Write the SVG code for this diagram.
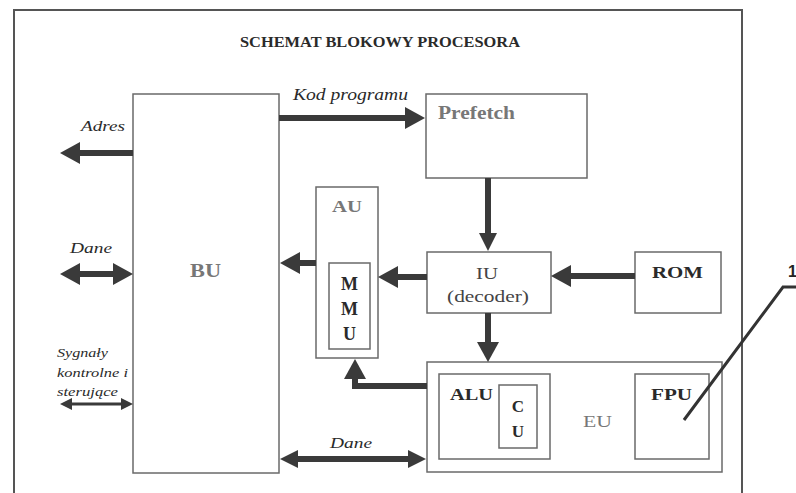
<svg xmlns="http://www.w3.org/2000/svg" width="796" height="493" viewBox="0 0 796 493">
<style>
.box{fill:#fff;stroke:#6a6a6a;stroke-width:1.5}
.t{font-family:"Liberation Serif","Times New Roman",serif}
.b{font-weight:bold}
.i{font-style:italic}
.dk{fill:#2a2a2a}
.gy{fill:#777}
.sh{stroke:#3a3a3a;stroke-width:6;fill:none}
.thin{stroke:#3a3a3a;stroke-width:3;fill:none}
</style>
<defs>
<marker id="ah" viewBox="0 0 20 22" refX="0" refY="11" markerWidth="20" markerHeight="22" markerUnits="userSpaceOnUse" orient="auto-start-reverse">
<path d="M0,0 L20,11 L0,22 z" fill="#3a3a3a"/>
</marker>
<marker id="am" viewBox="0 0 18 18" refX="0" refY="9" markerWidth="18" markerHeight="18" markerUnits="userSpaceOnUse" orient="auto-start-reverse">
<path d="M0,0 L18,9 L0,18 z" fill="#3a3a3a"/>
</marker>
<marker id="as" viewBox="0 0 12 12" refX="0" refY="6" markerWidth="12" markerHeight="12" markerUnits="userSpaceOnUse" orient="auto-start-reverse">
<path d="M0,0 L12,6 L0,12 z" fill="#3a3a3a"/>
</marker>
</defs>
<rect width="796" height="493" fill="#fff"/>
<g id="frame">
<path d="M14,493 V10 H742 V493" fill="none" stroke="#555" stroke-width="2"/>
<text class="t b dk" x="240" y="47" font-size="14" textLength="280" lengthAdjust="spacingAndGlyphs">SCHEMAT BLOKOWY PROCESORA</text>
</g>
<g id="BU">
<rect class="box" x="133" y="94" width="146" height="379"/>
<text class="t b gy" x="190" y="277" font-size="18" textLength="31" lengthAdjust="spacingAndGlyphs">BU</text>
</g>
<g id="Prefetch">
<rect class="box" x="426" y="94" width="161" height="84"/>
<text class="t b gy" x="438" y="119" font-size="18" textLength="77" lengthAdjust="spacingAndGlyphs">Prefetch</text>
</g>
<g id="AU">
<rect class="box" x="316" y="187" width="62" height="171"/>
<text class="t b gy" x="332" y="212" font-size="17" textLength="30" lengthAdjust="spacingAndGlyphs">AU</text>
</g>
<g id="MMU">
<rect class="box" x="329" y="263" width="41" height="86"/>
<text class="t b dk" x="349.5" y="290" font-size="18" text-anchor="middle">M</text>
<text class="t b dk" x="349.5" y="315" font-size="18" text-anchor="middle">M</text>
<text class="t b dk" x="349.5" y="340" font-size="18" text-anchor="middle">U</text>
</g>
<g id="IU">
<rect class="box" x="427" y="252" width="124" height="61"/>
<text class="t" fill="#444" x="476" y="279" font-size="17" textLength="22" lengthAdjust="spacingAndGlyphs">IU</text>
<text class="t" fill="#444" x="447" y="302" font-size="17" textLength="82" lengthAdjust="spacingAndGlyphs">(decoder)</text>
</g>
<g id="ROM">
<rect class="box" x="635" y="252" width="86" height="61"/>
<text class="t b dk" x="652" y="278" font-size="17" textLength="51" lengthAdjust="spacingAndGlyphs">ROM</text>
</g>
<g id="EU">
<rect class="box" x="427" y="362" width="295" height="110"/>
<text class="t gy" x="583" y="427" font-size="17" textLength="29" lengthAdjust="spacingAndGlyphs">EU</text>
</g>
<g id="ALU">
<rect class="box" x="439" y="374" width="111" height="85"/>
<text class="t b dk" x="450" y="400" font-size="17" textLength="43" lengthAdjust="spacingAndGlyphs">ALU</text>
</g>
<g id="CU">
<rect class="box" x="499" y="385" width="38" height="63"/>
<text class="t b dk" x="518" y="412" font-size="17" text-anchor="middle">C</text>
<text class="t b dk" x="518" y="437" font-size="17" text-anchor="middle">U</text>
</g>
<g id="FPU">
<rect class="box" x="635" y="374" width="74" height="85"/>
<text class="t b dk" x="651" y="400" font-size="17" textLength="41" lengthAdjust="spacingAndGlyphs">FPU</text>
</g>
<g id="connectors">
<line class="sh" x1="279" y1="118" x2="405" y2="118" marker-end="url(#ah)"/>
<line class="sh" x1="133" y1="153" x2="80" y2="153" marker-end="url(#ah)"/>
<line class="sh" x1="80" y1="274" x2="113" y2="274" marker-start="url(#ah)" marker-end="url(#ah)"/>
<line class="thin" x1="72" y1="404" x2="121" y2="404" marker-start="url(#as)" marker-end="url(#as)"/>
<line class="sh" x1="488" y1="178" x2="488" y2="233" marker-end="url(#am)"/>
<line class="sh" x1="427" y1="277" x2="398" y2="277" marker-end="url(#ah)"/>
<line class="sh" x1="635" y1="276" x2="571" y2="276" marker-end="url(#ah)"/>
<line class="sh" x1="316" y1="263" x2="300" y2="263" marker-end="url(#ah)"/>
<line class="sh" x1="488" y1="313" x2="488" y2="342" marker-end="url(#ah)"/>
<path class="sh" d="M427,386 H355 V379" marker-end="url(#ah)"/>
<line class="sh" x1="298" y1="459" x2="408" y2="459" marker-start="url(#am)" marker-end="url(#am)"/>
<polyline points="684,420 783,287 796,287" fill="none" stroke="#333" stroke-width="3"/>
</g>
<g id="labels">
<text class="t i dk" x="293" y="100" font-size="16" textLength="115" lengthAdjust="spacingAndGlyphs">Kod programu</text>
<text class="t i dk" x="81" y="131" font-size="15" textLength="44" lengthAdjust="spacingAndGlyphs">Adres</text>
<text class="t i dk" x="70" y="253" font-size="15" textLength="42" lengthAdjust="spacingAndGlyphs">Dane</text>
<text class="t i dk" x="57" y="357" font-size="13" textLength="51" lengthAdjust="spacingAndGlyphs">Sygnały</text>
<text class="t i dk" x="57" y="377" font-size="13" textLength="71" lengthAdjust="spacingAndGlyphs">kontrolne i</text>
<text class="t i dk" x="57" y="396" font-size="13" textLength="61" lengthAdjust="spacingAndGlyphs">sterujące</text>
<text class="t i dk" x="330" y="448" font-size="15" textLength="42" lengthAdjust="spacingAndGlyphs">Dane</text>
<text font-family="Liberation Sans, Arial, sans-serif" font-weight="bold" fill="#222" x="788" y="277" font-size="16">1</text>
</g>
</svg>
